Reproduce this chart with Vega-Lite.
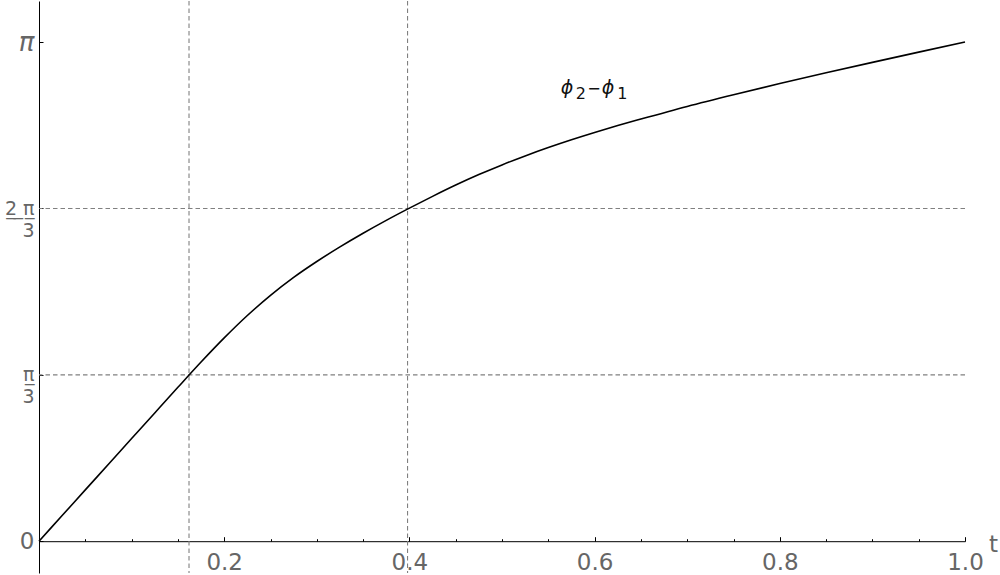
{
  "$schema": "https://vega.github.io/schema/vega-lite/v6.json",
  "width": 926,
  "height": 572,
  "autosize": {"type": "none"},
  "padding": {"left": 39, "top": 1, "right": 35, "bottom": 2},
  "background": "white",
  "config": {"view": {"stroke": null}},
  "datasets": {
    "curve": [
      {"t": 0, "phi": 0},
      {"t": 0.025, "phi": 0.1615},
      {"t": 0.05, "phi": 0.323},
      {"t": 0.075, "phi": 0.4845},
      {"t": 0.1, "phi": 0.646},
      {"t": 0.125, "phi": 0.8075},
      {"t": 0.15, "phi": 0.9685},
      {"t": 0.175, "phi": 1.1275},
      {"t": 0.2, "phi": 1.2795},
      {"t": 0.225, "phi": 1.4205},
      {"t": 0.25, "phi": 1.5475},
      {"t": 0.275, "phi": 1.6605},
      {"t": 0.3, "phi": 1.7605},
      {"t": 0.325, "phi": 1.8525},
      {"t": 0.35, "phi": 1.9385},
      {"t": 0.375, "phi": 2.0195},
      {"t": 0.4, "phi": 2.0965},
      {"t": 0.425, "phi": 2.1705},
      {"t": 0.45, "phi": 2.2415},
      {"t": 0.475, "phi": 2.3075},
      {"t": 0.5, "phi": 2.3685},
      {"t": 0.525, "phi": 2.425},
      {"t": 0.55, "phi": 2.4775},
      {"t": 0.575, "phi": 2.5265},
      {"t": 0.6, "phi": 2.5725},
      {"t": 0.625, "phi": 2.616},
      {"t": 0.65, "phi": 2.657},
      {"t": 0.7, "phi": 2.7366},
      {"t": 0.75, "phi": 2.81},
      {"t": 0.8, "phi": 2.8802},
      {"t": 0.85, "phi": 2.9479},
      {"t": 0.9, "phi": 3.0137},
      {"t": 0.95, "phi": 3.0782},
      {"t": 1.0, "phi": 3.1416}
    ],
    "vlines": [{"t": 0.162}, {"t": 0.398}],
    "hlines": [{"phi": 1.0471975512}, {"phi": 2.0943951024}],
    "label": [{"t": 0.5634, "phi": 2.814}]
  },
  "layer": [
    {
      "data": {"name": "vlines"},
      "mark": {"type": "rule", "stroke": "#808080", "strokeWidth": 1.1, "strokeDash": [4.5, 3]},
      "encoding": {
        "x": {"field": "t", "type": "quantitative", "scale": {"domain": [0, 1], "nice": false, "zero": false}}
      }
    },
    {
      "data": {"name": "hlines"},
      "mark": {"type": "rule", "stroke": "#808080", "strokeWidth": 1.1, "strokeDash": [4.5, 3]},
      "encoding": {
        "y": {"field": "phi", "type": "quantitative", "scale": {"domain": [-0.2, 3.4], "nice": false, "zero": false}}
      }
    },
    {
      "data": {"name": "curve"},
      "mark": {"type": "line", "stroke": "#000000", "strokeWidth": 1.6, "interpolate": "monotone"},
      "encoding": {
        "x": {
          "field": "t", "type": "quantitative",
          "scale": {"domain": [0, 1], "nice": false, "zero": false},
          "axis": {
            "title": "t",
            "orient": "bottom",
            "offset": -31.8,
            "grid": false,
            "values": [0.05, 0.1, 0.15, 0.2, 0.25, 0.3, 0.35, 0.4, 0.45, 0.5, 0.55, 0.6, 0.65, 0.7, 0.75, 0.8, 0.85, 0.9, 0.95, 1.0],
            "labelExpr": "abs(datum.value*5 - round(datum.value*5)) < 0.001 ? format(datum.value, '.1f') : ''",
            "tickSize": {"condition": {"test": "abs(datum.value*5 - round(datum.value*5)) < 0.001", "value": -4.5}, "value": -2.5},
            "tickColor": "#000000",
            "tickWidth": 1,
            "domainColor": "#000000",
            "domainWidth": 1,
            "labelFont": "DejaVu Sans",
            "labelFontSize": 23,
            "labelColor": "#666666",
            "labelPadding": 15,
            "labelFlush": false,
            "labelOverlap": false,
            "titleFont": "DejaVu Sans",
            "titleFontSize": 23,
            "titleFontWeight": "normal",
            "titleColor": "#666666",
            "titleX": 954,
            "titleY": 10,
            "titleAlign": "center",
            "titleBaseline": "alphabetic",
            "titleAngle": 0
          }
        },
        "y": {
          "field": "phi", "type": "quantitative",
          "scale": {"domain": [-0.2, 3.4], "nice": false, "zero": false},
          "axis": {
            "title": null,
            "grid": false,
            "values": [0, 1.0471975512, 2.0943951024, 3.14159265359],
            "labelExpr": "datum.value < 0.5 ? '0' : datum.value < 1.5 ? ['π\u0332\u2009', '3\u2009'] : datum.value < 2.5 ? ['2\u0332\u00a0\u0332π\u0332\u2009', '3\u00a0\u2009'] : 'π'",
            "tickSize": -4,
            "tickColor": "#000000",
            "domainColor": "#000000",
            "domainWidth": 1,
            "labelFont": "DejaVu Sans",
            "labelFontSize": {"condition": [{"test": "datum.value > 0.5 && datum.value < 2.5", "value": 19}, {"test": "datum.value > 2.5", "value": 26}], "value": 23},
            "labelFontStyle": {"condition": {"test": "datum.value > 2.5", "value": "italic"}, "value": "normal"},
            "labelAlign": "right",
            "labelLineHeight": 22,
            "labelColor": "#666666",
            "labelPadding": 9,
            "labelFlush": false,
            "labelOverlap": false
          }
        }
      }
    },
    {
      "data": {"name": "label"},
      "encoding": {
        "x": {"field": "t", "type": "quantitative"},
        "y": {"field": "phi", "type": "quantitative"}
      },
      "layer": [
        {"mark": {"type": "text", "text": "ϕ", "font": "DejaVu Sans", "fontSize": 19, "fontStyle": "italic", "fill": "#111111", "align": "left", "baseline": "alphabetic", "dx": 0}},
        {"mark": {"type": "text", "text": "2", "font": "DejaVu Sans", "fontSize": 16, "fill": "#111111", "align": "left", "baseline": "alphabetic", "dx": 15, "dy": 5}},
        {"mark": {"type": "text", "text": "−", "font": "DejaVu Sans", "fontSize": 16, "fill": "#111111", "align": "left", "baseline": "alphabetic", "dx": 26.5}},
        {"mark": {"type": "text", "text": "ϕ", "font": "DejaVu Sans", "fontSize": 19, "fontStyle": "italic", "fill": "#111111", "align": "left", "baseline": "alphabetic", "dx": 41}},
        {"mark": {"type": "text", "text": "1", "font": "DejaVu Sans", "fontSize": 16, "fill": "#111111", "align": "left", "baseline": "alphabetic", "dx": 56.5, "dy": 5}}
      ]
    }
  ]
}
